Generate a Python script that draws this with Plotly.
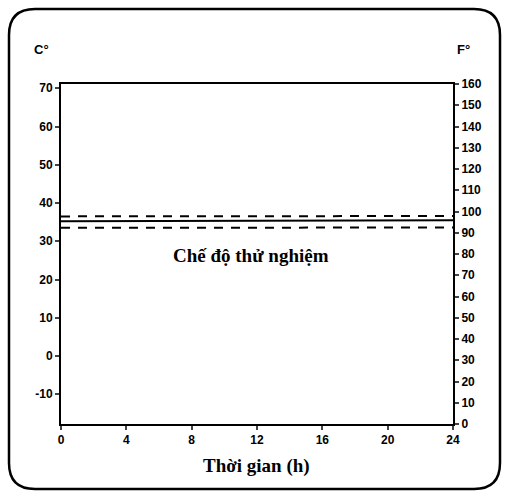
import plotly.graph_objects as go

hours = [0, 24]
mean_c = [35.2, 35.5]
upper_c = [36.5, 36.6]
lower_c = [33.5, 33.6]
x_ticks = [0, 4, 8, 12, 16, 20, 24]
c_ticks = [-10, 0, 10, 20, 30, 40, 50, 60, 70]
c_labels = ["-10", "0", "10", "20", "30", "40", "50", "60", "70"]
f_ticks = list(range(0, 170, 10))

W, H = 509, 496
L, R, T, B = 61, 453, 84, 424

def px(x):
    return (x - L) / (R - L)

def py(y):
    return (B - y) / (B - T)

fig = go.Figure()
fig.add_trace(go.Scatter(x=hours, y=upper_c, mode="lines",
                         line=dict(color="black", width=2, dash="9px,8px"), showlegend=False))
fig.add_trace(go.Scatter(x=hours, y=mean_c, mode="lines",
                         line=dict(color="black", width=2), showlegend=False))
fig.add_trace(go.Scatter(x=hours, y=lower_c, mode="lines",
                         line=dict(color="black", width=2, dash="9px,8px"), showlegend=False))
# invisible trace for F axis
fig.add_trace(go.Scatter(x=[0], y=[None], yaxis="y2", showlegend=False, hoverinfo="skip"))

tickfont = dict(family="Liberation Sans, Arial", size=12, color="black", weight="bold")

fig.update_layout(
    width=W, height=H,
    margin=dict(l=L, r=W - R, t=T, b=H - B),
    paper_bgcolor="white", plot_bgcolor="white",
    xaxis=dict(range=[0, 24], tickvals=x_ticks, ticks="outside", ticklen=4, tickwidth=2,
               showline=True, linewidth=2, linecolor="black", mirror=True,
               showgrid=False, zeroline=False, tickfont=tickfont),
    yaxis=dict(range=[(0 - 32) / 1.8, (160 - 32) / 1.8], tickvals=c_ticks, ticktext=c_labels,
               ticks="outside", ticklen=4, tickwidth=2, showline=True, linewidth=2,
               linecolor="black", showgrid=False, zeroline=False, tickfont=tickfont),
    yaxis2=dict(range=[0, 160], tickvals=f_ticks, overlaying="y", side="right",
                ticks="outside", ticklen=4, tickwidth=2, showline=True, linewidth=2,
                linecolor="black", showgrid=False, zeroline=False, tickfont=tickfont),
)

# rounded border
x0, x1, y0, y1, r = 9, 500, 9, 489, 26
path = (f"M {px(x0 + r)},{py(y0)} L {px(x1 - r)},{py(y0)} "
        f"Q {px(x1)},{py(y0)} {px(x1)},{py(y0 + r)} "
        f"L {px(x1)},{py(y1 - r)} Q {px(x1)},{py(y1)} {px(x1 - r)},{py(y1)} "
        f"L {px(x0 + r)},{py(y1)} Q {px(x0)},{py(y1)} {px(x0)},{py(y1 - r)} "
        f"L {px(x0)},{py(y0 + r)} Q {px(x0)},{py(y0)} {px(x0 + r)},{py(y0)} Z")
fig.add_shape(type="path", path=path, xref="paper", yref="paper",
              line=dict(color="black", width=2.5), layer="above")

fig.add_annotation(x=px(32), y=py(50), xref="paper", yref="paper", text="C°",
                   showarrow=False, xanchor="left", yanchor="middle",
                   font=dict(family="Liberation Sans, Arial", size=13, color="black", weight="bold"))
fig.add_annotation(x=px(455), y=py(50), xref="paper", yref="paper", text="F°",
                   showarrow=False, xanchor="left", yanchor="middle",
                   font=dict(family="Liberation Sans, Arial", size=13, color="black", weight="bold"))
fig.add_annotation(x=px(251), y=py(255), xref="paper", yref="paper", text="Chế độ thử nghiệm",
                   showarrow=False, xanchor="center", yanchor="middle",
                   font=dict(family="Liberation Serif, Times New Roman", size=19, color="black", weight="bold"))
fig.add_annotation(x=px(256), y=py(466), xref="paper", yref="paper", text="Thời gian (h)",
                   showarrow=False, xanchor="center", yanchor="middle",
                   font=dict(family="Liberation Serif, Times New Roman", size=19, color="black", weight="bold"))

fig.write_html("out.html", config={"displayModeBar": False},
               post_script="document.body.style.margin='0';")
